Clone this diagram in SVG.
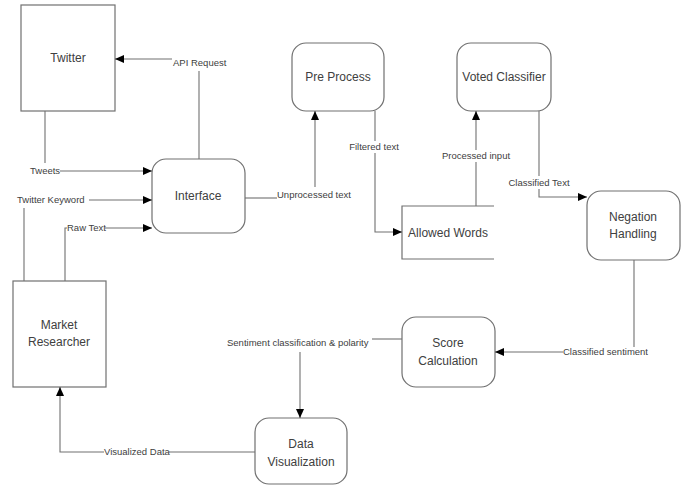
<svg xmlns="http://www.w3.org/2000/svg" width="682" height="486" viewBox="0 0 682 486">
<style>
.box{fill:#fff;stroke:#707070;stroke-width:1.2}
.nt{font-family:"Liberation Sans",Arial,sans-serif;font-size:12px;fill:#404040;text-anchor:middle}
.el{font-family:"Liberation Sans",Arial,sans-serif;font-size:9.5px;fill:#404040}
.c{fill:none;stroke:#707070;stroke-width:1.1}
.a{marker-end:url(#ah)}
</style>
<defs>
<marker id="ah" markerUnits="userSpaceOnUse" markerWidth="10" markerHeight="8" refX="9" refY="4" orient="auto">
<path d="M0,0 L9,4 L0,8 Z" fill="#000"/>
</marker>
</defs>
<rect width="682" height="486" fill="#fff"/>
<g id="twitter"><rect class="box" x="21" y="5" width="94" height="106"/><text class="nt" x="68" y="62">Twitter</text></g>
<g id="interface"><rect class="box" x="152" y="159" width="93" height="74" rx="14"/><text class="nt" x="198" y="200">Interface</text></g>
<g id="preprocess"><rect class="box" x="292" y="43" width="92" height="68" rx="14"/><text class="nt" x="338" y="81">Pre Process</text></g>
<g id="voted"><rect class="box" x="457" y="43" width="94" height="68" rx="14"/><text class="nt" x="504" y="81">Voted Classifier</text></g>
<g id="allowed"><path class="box" d="M494,206 H402 V259 H494" fill="none"/><text class="nt" x="448" y="237">Allowed Words</text></g>
<g id="negation"><rect class="box" x="587" y="191" width="93" height="69" rx="14"/><text class="nt" x="633" y="221">Negation</text><text class="nt" x="633" y="238">Handling</text></g>
<g id="score"><rect class="box" x="402" y="317" width="93" height="70" rx="14"/><text class="nt" x="448" y="347">Score</text><text class="nt" x="448" y="365">Calculation</text></g>
<g id="dataviz"><rect class="box" x="255" y="418" width="92" height="66" rx="14"/><text class="nt" x="301" y="448">Data</text><text class="nt" x="301" y="466">Visualization</text></g>
<g id="market"><rect class="box" x="13" y="281" width="93" height="106"/><text class="nt" x="59" y="329">Market</text><text class="nt" x="59" y="346">Researcher</text></g>
<g id="connectors">
<path class="c" d="M199,159 V71"/>
<path class="c a" d="M172,59 H115"/>
<text class="el" x="173" y="66">API Request</text>
<path class="c" d="M45,111 V163"/>
<text class="el" x="30" y="174">Tweets</text>
<path class="c a" d="M60,171 H152"/>
<text class="el" x="17" y="203">Twitter Keyword</text>
<path class="c a" d="M89,200 H152"/>
<path class="c" d="M24,208 V281"/>
<path class="c" d="M65,281 V228 H67"/>
<text class="el" x="67" y="231">Raw Text</text>
<path class="c a" d="M105,228 H152"/>
<path class="c" d="M245,198 H277"/>
<text class="el" x="277" y="198">Unprocessed text</text>
<path class="c a" d="M315,187 V111"/>
<path class="c" d="M375,111 V141"/>
<text class="el" x="374" y="150" text-anchor="middle">Filtered text</text>
<path class="c a" d="M375,153 V232 H402"/>
<path class="c" d="M476,206 V162"/>
<text class="el" x="476" y="159" text-anchor="middle">Processed input</text>
<path class="c a" d="M476,150 V111"/>
<path class="c" d="M539,111 V176"/>
<text class="el" x="539" y="186" text-anchor="middle">Classified Text</text>
<path class="c a" d="M539,189 V197 H587"/>
<path class="c" d="M634,260 V347"/>
<text class="el" x="563" y="355">Classified sentiment</text>
<path class="c a" d="M563,352 H495"/>
<path class="c" d="M402,339 H372"/>
<text class="el" x="227" y="346">Sentiment classification &amp; polarity</text>
<path class="c a" d="M300,352 V418"/>
<path class="c" d="M255,452 H169"/>
<text class="el" x="104" y="455">Visualized Data</text>
<path class="c a" d="M104,452 H60 V387"/>
</g>
</svg>
